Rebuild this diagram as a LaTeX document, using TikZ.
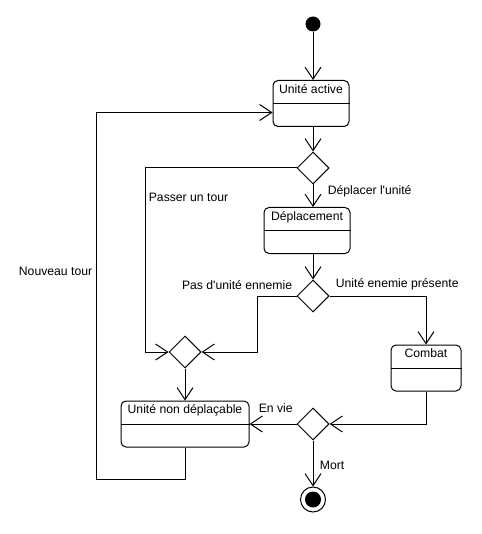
\documentclass[tikz,border=0pt]{standalone}
\usepackage{fontspec}
\newfontfamily\uifont{Liberation Sans}
\usetikzlibrary{arrows.meta,shapes.geometric}

\tikzset{
  flow/.style={-{Straight Barb[length=12pt,width=16pt]}},
  statebox/.style={draw,rounded corners=5pt,fill=white,inner sep=0pt,minimum height=46pt},
  choice/.style={draw,diamond,fill=white,inner sep=0pt,minimum width=32pt,minimum height=32pt},
}

\begin{document}
\begin{tikzpicture}[x=1pt,y=-1pt,line width=1pt,font=\uifont\fontsize{12.2}{14}\selectfont]
\useasboundingbox (0,0) rectangle (481,534);
% etats
\node[statebox,minimum width=76pt] (active) at (311,103.5) {};
\node[statebox,minimum width=86pt] (depl) at (307,230.5) {};
\node[statebox,minimum width=70pt] (combat) at (426,368) {};
\node[statebox,minimum width=128pt] (nondepl) at (185,424) {};
\foreach \b in {active,depl,combat,nondepl}{ \draw (\b.west) -- (\b.east); }
\node[anchor=base] at ([yshift=-14pt]active.north) {Unité active};
\node[anchor=base] at ([yshift=-14pt]depl.north) {Déplacement};
\node[anchor=base] at ([yshift=-13pt]combat.north) {Combat};
\node[anchor=base] at ([yshift=-13pt]nondepl.north) {Unité non déplaçable};
% choix
\node[choice] (d1) at (313,168) {};
\node[choice] (d2) at (313,296) {};
\node[choice] (merge) at (185,352) {};
\node[choice] (d3) at (313,424) {};
% debut et fin
\node[circle,fill=black,minimum size=15pt,inner sep=0pt] (init) at (313,24) {};
\node[circle,draw,fill=white,minimum size=25pt,inner sep=0pt] (final) at (313,499.5) {};
\fill (final) circle (8);
\coordinate (passcorner) at (145,352);
\coordinate (pascorner) at (257,352);
\coordinate (loopcorner) at (96,479);
% transitions
\draw[flow] (init) -- (init |- active.north);
\draw[flow] (active.south -| d1) -- (d1.north);
\draw[flow] (d1.west) -| (passcorner) -- (merge.west);
\draw[flow] (d1.south) -- (d1 |- depl.north);
\draw[flow] (depl.south -| d2) -- (d2.north);
\draw[flow] (d2.west) -| (pascorner) -- (merge.east);
\draw[flow] (d2.east) -| (combat.north);
\draw[flow] (combat.south) |- (d3.east);
\draw[flow] (d3.west) -- (nondepl.east);
\draw[flow] (d3.south) -- (final.north);
\draw[flow] (merge.south) -- (merge |- nondepl.north);
\draw[flow] (nondepl.south) |- (loopcorner) |- ([yshift=-9pt]active.west);
% etiquettes
\node[anchor=west] at (145,197) {Passer un tour};
\node[anchor=west] at (324,191) {Déplacer l'unité};
\node[anchor=east] at (296,285) {Pas d'unité ennemie};
\node[anchor=west] at (332,284) {Unité enemie présente};
\node[anchor=west] at (255,408) {En vie};
\node[anchor=west] at (316,465) {Mort};
\node[anchor=east] at (96,271) {Nouveau tour};
\end{tikzpicture}
\end{document}
